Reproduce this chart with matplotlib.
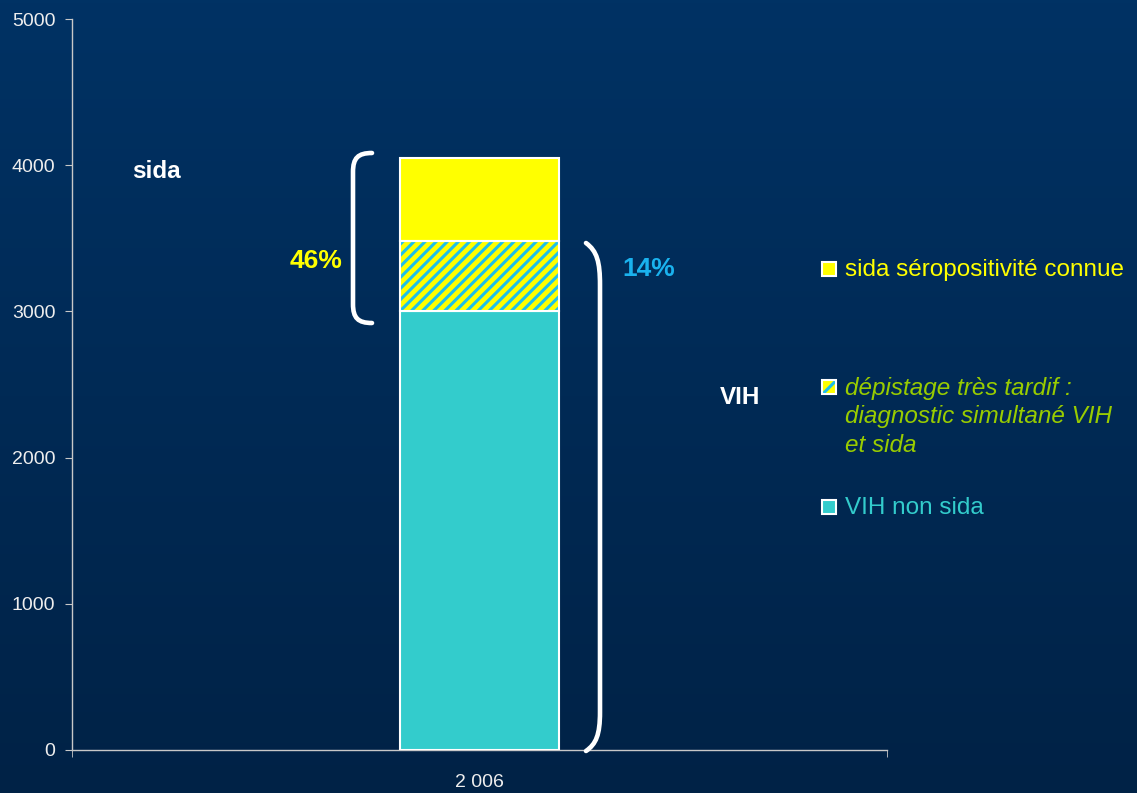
import numpy as np
import matplotlib
matplotlib.use("Agg")
import matplotlib.pyplot as plt
from matplotlib.patches import Rectangle, PathPatch
from matplotlib.path import Path

plt.rcParams['font.family'] = ['Liberation Sans', 'DejaVu Sans']
plt.rcParams['hatch.linewidth'] = 2.2

# data
years = ['2 006']
vih_non_sida = [3000]
depistage_tardif = [480]
sida_connue = [570]

legend_labels = ['sida séropositivité connue',
                 'dépistage très tardif :\ndiagnostic simultané VIH\net sida',
                 'VIH non sida']

c_yellow = '#FFFF00'
c_teal = '#33CCCC'
c_stripe = '#1EBFEA'
c_green = '#99CC00'
c_blue_txt = '#1AB2EE'
c_axis = '#C8C8C8'

W, H = 1137, 793
fig = plt.figure(figsize=(W / 100, H / 100), dpi=100)

# background gradient
bg = fig.add_axes([0, 0, 1, 1], zorder=-1)
top = np.array([0, 50, 100]) / 255
bot = np.array([0, 34, 70]) / 255
t = np.linspace(0, 1, 256)[:, None, None]
grad = top * (1 - t) + bot * t
grad = np.repeat(grad, 2, axis=1)
bg.imshow(grad, aspect='auto', extent=[0, 1, 0, 1])
bg.axis('off')

# main chart
ax = fig.add_axes([72 / W, 43 / H, 815 / W, 731 / H])
ax.patch.set_alpha(0)
x = np.arange(len(years))
bw = 0.196
ax.bar(x, vih_non_sida, bw, color=c_teal, edgecolor='white', linewidth=1.5, zorder=3)
b1 = np.array(vih_non_sida)
ax.bar(x, depistage_tardif, bw, bottom=b1, color=c_yellow, edgecolor=c_stripe,
       hatch='///', linewidth=0, zorder=3)
ax.bar(x, depistage_tardif, bw, bottom=b1, fill=False, edgecolor='white',
       linewidth=1.5, zorder=4)
b2 = b1 + np.array(depistage_tardif)
ax.bar(x, sida_connue, bw, bottom=b2, color=c_yellow, edgecolor='white',
       linewidth=1.5, zorder=3)

ax.set_xlim(-0.5, 0.5)
ax.set_ylim(0, 5000)
ax.set_yticks(range(0, 5001, 1000))
ax.set_xticks(x)
ax.set_xticklabels(years)
ax.set_xticks([-0.5, 0.5], minor=True)
ax.tick_params(axis='x', which='major', length=0, pad=17, labelsize=14, labelcolor='#EEEEEE')
ax.tick_params(axis='x', which='minor', length=5, color=c_axis, direction='out')
ax.tick_params(axis='y', length=5, color=c_axis, labelsize=14, labelcolor='#EEEEEE', pad=7)
for s in ['top', 'right']:
    ax.spines[s].set_visible(False)
for s in ['left', 'bottom']:
    ax.spines[s].set_color(c_axis)
    ax.spines[s].set_linewidth(1)

# overlay in pixel coordinates for annotations
ov = fig.add_axes([0, 0, 1, 1], zorder=5)
ov.set_xlim(0, W)
ov.set_ylim(H, 0)
ov.axis('off')
ov.patch.set_alpha(0)

lb = Path([(372, 153), (358, 153), (353, 158), (353, 172),
           (353, 304), (353, 318), (358, 323), (372, 323)],
          [Path.MOVETO, Path.CURVE4, Path.CURVE4, Path.CURVE4,
           Path.LINETO, Path.CURVE4, Path.CURVE4, Path.CURVE4])
ov.add_patch(PathPatch(lb, fill=False, edgecolor='white', lw=3.3, capstyle='round'))
rb = Path([(586, 243), (597, 251), (600, 262), (600, 285),
           (600, 712), (600, 735), (596, 744), (586, 751)],
          [Path.MOVETO, Path.CURVE4, Path.CURVE4, Path.CURVE4,
           Path.LINETO, Path.CURVE4, Path.CURVE4, Path.CURVE4])
ov.add_patch(PathPatch(rb, fill=False, edgecolor='white', lw=3.3, capstyle='round'))

ov.text(156, 172, 'sida', color='white', fontsize=17.5, fontweight='bold', ha='center', va='center')
ov.text(740, 397, 'VIH', color='white', fontsize=17.5, fontweight='bold', ha='center', va='center')
ov.text(316, 261, '46%', color=c_yellow, fontsize=19, fontweight='bold', ha='center', va='center')
ov.text(649, 269, '14%', color=c_blue_txt, fontsize=19, fontweight='bold', ha='center', va='center')

# legend
leg_y = [269, 387, 507]
leg_face = [c_yellow, c_yellow, c_teal]
leg_hatch = [None, '//', None]
leg_col = [c_yellow, c_green, c_teal]
leg_style = ['normal', 'italic', 'normal']
for yy, fc, hh, tc, st, lab in zip(leg_y, leg_face, leg_hatch, leg_col, leg_style, legend_labels):
    if hh:
        ov.add_patch(Rectangle((822, yy - 7), 14, 14, facecolor=fc, edgecolor=c_stripe,
                               hatch=hh, lw=0))
    ov.add_patch(Rectangle((822, yy - 7), 14, 14, facecolor=fc if not hh else 'none',
                           edgecolor='white', lw=1.5))
    ov.text(845, yy - 10, lab, color=tc, fontsize=17.5, fontstyle=st, ha='left', va='top',
            linespacing=1.3)

fig.savefig('out.png', dpi=100)
